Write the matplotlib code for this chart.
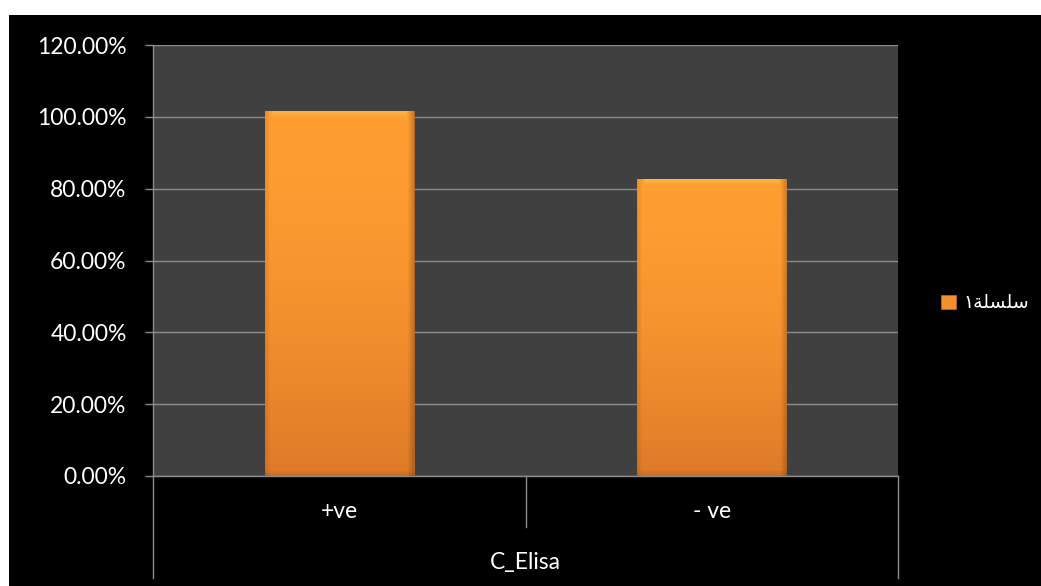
import numpy as np
import matplotlib
matplotlib.use("Agg")
import matplotlib.pyplot as plt
from matplotlib.patches import Rectangle
from matplotlib.colors import to_rgb
import matplotlib.transforms as mtransforms

plt.rcParams['font.family'] = ['Lato', 'DejaVu Sans']

# data
categories = ['+ve', '- ve']
group_label = 'C_Elisa'
values = [1.017, 0.827]
series_name = 'سلسلة١'
y_ticks = [0.0, 0.2, 0.4, 0.6, 0.8, 1.0, 1.2]


def shape_arabic(text):
    # minimal contextual shaping + visual reordering (matplotlib has no bidi/shaping)
    forms = {
        'س': ('\uFEB1', '\uFEB2', '\uFEB3', '\uFEB4'),
        'ل': ('\uFEDD', '\uFEDE', '\uFEDF', '\uFEE0'),
        'ة': ('\uFE93', '\uFE94', None, None),
    }
    out = []
    for i, ch in enumerate(text):
        if ch not in forms:
            out.append(ch)
            continue
        prev = text[i - 1] if i > 0 else ''
        nxt = text[i + 1] if i + 1 < len(text) else ''
        join_prev = prev in forms and forms[prev][2] is not None
        join_next = forms[ch][2] is not None and nxt in forms
        iso, fin, ini, med = forms[ch]
        if join_prev and join_next:
            out.append(med)
        elif join_prev:
            out.append(fin)
        elif join_next:
            out.append(ini)
        else:
            out.append(iso)
    return ''.join(reversed(out))


W, H = 1041, 586
fig = plt.figure(figsize=(W / 100, H / 100), dpi=100, facecolor='white')
fig.patches.append(Rectangle((9 / W, 0), 1, (H - 15) / H, transform=fig.transFigure,
                             facecolor='black', edgecolor='none', zorder=-5))

left, right, top, bottom = 153, 898, 45, 476
ax = fig.add_axes([left / W, (H - bottom) / H, (right - left) / W, (bottom - top) / H])
ax.set_facecolor('#404040')

x = np.arange(len(categories))
bars = ax.bar(x, values, width=0.4, color='#F5902E', edgecolor='#B9621C',
              linewidth=0.6, zorder=3, label=shape_arabic(series_name))

ax.set_xlim(-0.5, len(categories) - 0.5)
ax.set_ylim(0, 1.2)

# bevelled orange fill for each bar
fig.canvas.draw()
top_c = np.array(to_rgb('#FF9E31'))
bot_c = np.array(to_rgb('#DE7A28'))
hi_c = np.array(to_rgb('#FFCB5A'))
for bar in bars:
    bx, bw, bh = bar.get_x(), bar.get_width(), bar.get_height()
    p0 = ax.transData.transform((bx, 0))
    p1 = ax.transData.transform((bx + bw, bh))
    pw, ph = int(abs(p1[0] - p0[0])), int(abs(p1[1] - p0[1]))
    yy, xx = np.mgrid[0:ph, 0:pw]
    t = (yy / max(ph - 1, 1)) ** 1.7  # 0 at top, 1 at bottom
    img = top_c[None, None, :] * (1 - t[..., None]) + bot_c[None, None, :] * t[..., None]
    edge_l = xx
    edge_r = pw - 1 - xx
    img = img * (1 - 0.10 * np.clip(1 - edge_l / 5.0, 0, 1)[..., None])
    img = img * (1 - 0.20 * np.clip(1 - edge_r / 6.0, 0, 1)[..., None])
    edge = np.minimum(edge_l, edge_r)
    topband = np.clip(1 - yy / 7.0, 0, 1)[..., None] * (edge > 6)[..., None]
    img = img * (1 - 0.6 * topband) + hi_c * 0.6 * topband
    botband = np.clip(1 - (ph - 1 - yy) / 6.0, 0, 1)[..., None]
    img = img * (1 - 0.10 * botband)
    im = ax.imshow(np.clip(img, 0, 1), extent=(bx, bx + bw, 0, bh), aspect='auto',
                   origin='upper', zorder=3.5, interpolation='bilinear')
    im.set_clip_path(bar)

ax.set_xlim(-0.5, len(categories) - 0.5)
ax.set_ylim(0, 1.2)

# y axis
ax.set_yticks(y_ticks)
ax.set_yticklabels([f'{v * 100:.2f}%' for v in y_ticks])
ax.tick_params(axis='y', colors='#8C8C8C', labelcolor='white', labelsize=16.5,
               length=6, width=1, pad=13)
ax.yaxis.grid(True, color='#8C8C8C', linewidth=1, zorder=1)
ax.set_axisbelow(True)
ax.set_xticks([])
for s in ['top', 'right']:
    ax.spines[s].set_visible(False)
for s in ['left', 'bottom']:
    ax.spines[s].set_color('#8C8C8C')
    ax.spines[s].set_linewidth(1)

# multi-level category axis
trans = mtransforms.blended_transform_factory(ax.transData, ax.transAxes)
ph_axes = bottom - top
outer = -(578 - bottom) / ph_axes
inner = -(527 - bottom) / ph_axes
for xb in [-0.5, len(categories) - 0.5]:
    ax.plot([xb, xb], [0, outer], transform=trans, color='#8C8C8C', lw=1, clip_on=False)
for xb in np.arange(len(categories) - 1) + 0.5:
    ax.plot([xb, xb], [0, inner], transform=trans, color='#8C8C8C', lw=1, clip_on=False)
for xi, lab in zip(x, categories):
    ax.text(xi, -(511 - bottom) / ph_axes, lab, transform=trans, ha='center', va='center',
            color='white', fontsize=16.5)
ax.text((len(categories) - 1) / 2, -(562 - bottom) / ph_axes, group_label, transform=trans,
        ha='center', va='center', color='white', fontsize=16.5)

# legend
leg = fig.legend(handles=[bars], loc='center left', bbox_to_anchor=(932 / W, (H - 303) / H),
                 frameon=False, fontsize=13.5, handlelength=0.8, handleheight=0.8,
                 handletextpad=0.4, borderpad=0)
for txt in leg.get_texts():
    txt.set_color('white')

fig.savefig('out.png', dpi=100, facecolor=fig.get_facecolor())
